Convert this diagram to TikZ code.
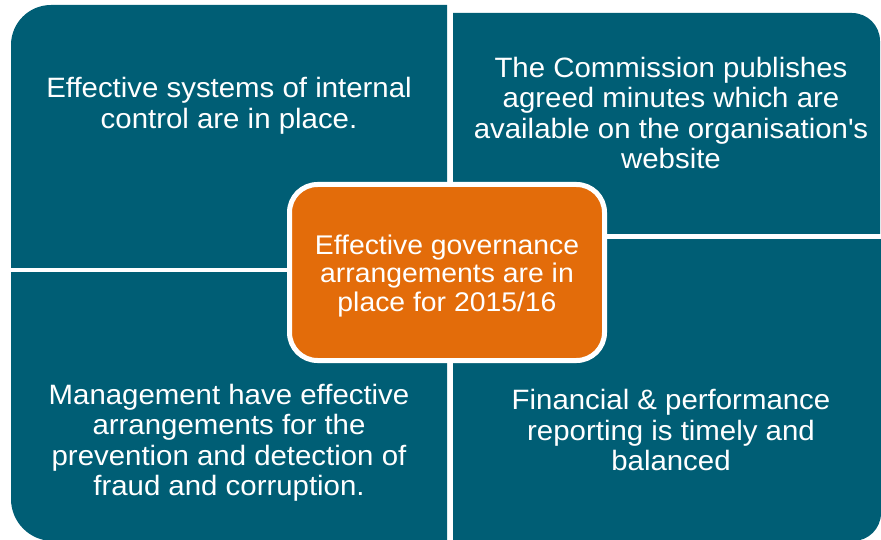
\documentclass[tikz,border=0pt]{standalone}
\usepackage{fontspec}
\setmainfont[FakeStretch=1.05]{Liberation Sans}
\definecolor{quadteal}{RGB}{0,94,117}
\definecolor{huborange}{RGB}{227,108,10}

\begin{document}
\begin{tikzpicture}[x=1pt, y=-1pt,
      every node/.append style={align=center, text=white},
      quad/.style={fill=quadteal},
      quadtext/.style={font=\fontsize{28}{30.5}\selectfont},
      hub/.style={fill=huborange, draw=white, line width=5pt, rounded corners=28pt,
        minimum width=315pt, minimum height=176pt, inner sep=0pt,
        font=\fontsize{27}{28.5}\selectfont}]
    \useasboundingbox (0,0) rectangle (881,540);
    % four quarters, one round outer corner each
    \begin{scope}
      \clip (11,5) rectangle (447,267);
      \fill[quad, rounded corners=40pt] (11,5) rectangle (540,360);
    \end{scope}
    \begin{scope}
      \clip (453,13) rectangle (880,234);
      \fill[quad, rounded corners=28pt] (360,13) rectangle (880,320);
    \end{scope}
    \begin{scope}
      \clip (11,272) rectangle (447,541);
      \fill[quad, rounded corners=42pt] (11,180) rectangle (540,541);
    \end{scope}
    \begin{scope}
      \clip (453,240) rectangle (881,541);
      \fill[quad, rounded corners=28pt] (360,150) rectangle (881,541);
    \end{scope}
    % texts
    \node[quadtext] (internal) at (229,106) {Effective systems of internal\\control are in place.};
    \node[quadtext] (minutes) at (671,113) {The Commission publishes\\agreed minutes which are\\available on the organisation\textquotesingle s\\website};
    \node[quadtext] (fraud) at (229,443) {Management have effective\\arrangements for the\\prevention and detection of\\fraud and corruption.};
    \node[quadtext] (reporting) at (671,430) {Financial \& performance\\reporting is timely and\\balanced};
    \node[hub] (governance) at (447,272.5) {\raisebox{-3.5pt}[\height][\depth]{\parbox{300pt}{\centering Effective governance\\arrangements are in\\place for 2015/16}}};
\end{tikzpicture}
\end{document}
